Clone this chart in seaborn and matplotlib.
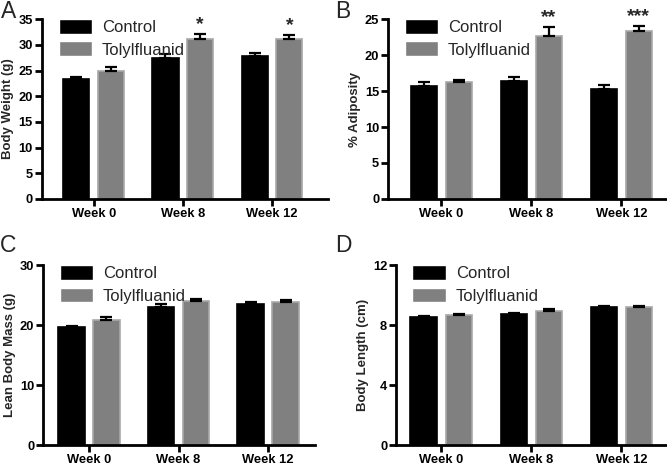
import numpy as np
import pandas as pd
import seaborn as sns
import matplotlib.pyplot as plt

weeks = ['Week 0', 'Week 8', 'Week 12']
groups = ['Control', 'Tolylfluanid']

# means and SEM
bw_ctrl = [23.3, 27.5, 27.8]
bw_tolyl = [25.0, 31.2, 31.2]
bw_ctrl_err = [0.5, 0.7, 0.7]
bw_tolyl_err = [0.6, 0.9, 0.7]

adip_ctrl = [15.7, 16.4, 15.3]
adip_tolyl = [16.3, 22.6, 23.4]
adip_ctrl_err = [0.6, 0.5, 0.5]
adip_tolyl_err = [0.3, 1.3, 0.7]

lean_ctrl = [19.7, 23.0, 23.5]
lean_tolyl = [20.9, 24.0, 23.8]
lean_ctrl_err = [0.2, 0.5, 0.4]
lean_tolyl_err = [0.5, 0.4, 0.4]

len_ctrl = [8.55, 8.75, 9.2]
len_tolyl = [8.65, 8.95, 9.2]
len_ctrl_err = [0.05, 0.05, 0.05]
len_tolyl_err = [0.1, 0.1, 0.08]

bw_stars = ['', '*', '*']
adip_stars = ['', '**', '***']

sns.set_style('ticks')
plt.rcParams['font.family'] = ['Liberation Sans', 'DejaVu Sans']

colors = {'Control': '#000000', 'Tolylfluanid': '#808080'}
edges = {'Control': '#000000', 'Tolylfluanid': '#a8a8a8'}


def panel(rect, ctrl, tolyl, ctrl_err, tolyl_err, ylabel, ymax, yticks, xlim,
          letter, letter_pos, stars=None, leg_anchor=(0.035, 1.04)):
    ax = fig.add_axes(rect)
    df = pd.DataFrame({
        'week': weeks * 2,
        'group': [groups[0]] * 3 + [groups[1]] * 3,
        'value': list(ctrl) + list(tolyl),
    })
    sns.barplot(data=df, x='week', y='value', hue='group', order=weeks,
                hue_order=groups, palette=colors, errorbar=None,
                width=0.78, gap=0.25, saturation=1, ax=ax)
    errs = [ctrl_err, tolyl_err]
    bar_conts = list(ax.containers)
    for gi, cont in enumerate(bar_conts):
        g = groups[gi]
        for bi, bar in enumerate(cont):
            bar.set_edgecolor(edges[g])
            bar.set_linewidth(1.2)
            xc = bar.get_x() + bar.get_width() / 2
            h = bar.get_height()
            ax.errorbar(xc, h, yerr=[[0], [errs[gi][bi]]], color='black',
                        capsize=4.5, elinewidth=1.6, capthick=1.6, zorder=3)
            if gi == 1 and stars is not None and stars[bi]:
                ax.text(xc, h + errs[gi][bi] + ymax * 0.005, stars[bi],
                        ha='center', va='bottom', fontsize=14,
                        fontweight='bold')
    ax.set_ylim(0, ymax)
    ax.set_xlim(*xlim)
    ax.set_yticks(yticks)
    ax.set_xlabel('')
    ax.set_ylabel(ylabel, fontsize=9.5, fontweight='bold', labelpad=3)
    for lab in ax.get_xticklabels() + ax.get_yticklabels():
        lab.set_fontweight('bold')
        lab.set_fontsize(9.3)
    sns.despine(ax=ax)
    for s in ['left', 'bottom']:
        ax.spines[s].set_linewidth(2)
        ax.spines[s].set_color('black')
    ax.tick_params(width=2, length=5, pad=1.5, colors='black')
    ax.legend(loc='upper left', bbox_to_anchor=leg_anchor, frameon=False,
              fontsize=12, handlelength=2.0, handleheight=1.0,
              labelspacing=0.4, handletextpad=0.6, borderaxespad=0)
    fig.text(letter_pos[0], letter_pos[1], letter, fontsize=16.5,
             ha='left', va='top')
    return ax


fig = plt.figure(figsize=(6.67, 4.67), dpi=100)

panel([0.063, 0.574, 0.429, 0.385], bw_ctrl, bw_tolyl, bw_ctrl_err,
      bw_tolyl_err, 'Body Weight (g)', 35, range(0, 36, 5), (-0.58, 2.63),
      'A', (0.002, 1.0), stars=bw_stars)
panel([0.582, 0.574, 0.417, 0.385], adip_ctrl, adip_tolyl, adip_ctrl_err,
      adip_tolyl_err, '% Adiposity', 25, range(0, 26, 5), (-0.59, 2.5),
      'B', (0.502, 1.0), stars=adip_stars)
panel([0.065, 0.047, 0.408, 0.385], lean_ctrl, lean_tolyl, lean_ctrl_err,
      lean_tolyl_err, 'Lean Body Mass (g)', 30, range(0, 31, 10),
      (-0.51, 2.53), 'C', (0.0, 0.5))
panel([0.594, 0.047, 0.405, 0.385], len_ctrl, len_tolyl, len_ctrl_err,
      len_tolyl_err, 'Body Length (cm)', 12, range(0, 13, 4),
      (-0.5, 2.5), 'D', (0.502, 0.5))

fig.savefig('out.png', dpi=100)
